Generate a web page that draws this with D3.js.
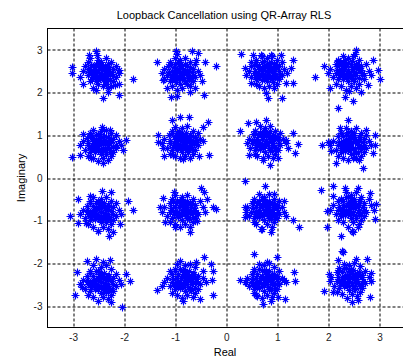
<!DOCTYPE html>
<html>
<head>
<meta charset="utf-8">
<script src="https://cdnjs.cloudflare.com/ajax/libs/d3/7.8.5/d3.min.js"></script>
<style>
  body { margin: 0; background: #fff; }
  svg text { font-family: "Liberation Sans", Arial, sans-serif; fill: #000; }
</style>
</head>
<body>
<svg id="chart" width="403" height="360"></svg>
<script>
var xTicks = [-3, -2, -1, 0, 1, 2, 3];
var yTicks = [-3, -2, -1, 0, 1, 2, 3];

// received symbols, one array per constellation point
var row1a = [[-2.45,2.45],[-2.6,2.5],[-2.3,2.4],[-2.5,2.3],[-2.4,2.6],[-2.7,2.4],[-2.2,2.55],[-2.55,2.65],[-2.35,2.25],[-2.65,2.25],[-2.8,2.5],[-2.75,2.62],[-2.15,2.35],[-2.25,2.7],[-2.5,2.75],[-2.4,2.15],[-2.6,2.1],[-2.3,2.1],[-2.1,2.45],[-2.45,2.55],[-2.55,2.4],[-2.35,2.5],[-2.65,2.55],[-2.2,2.25],[-2.85,2.35],[-2.7,2.7],[-2.5,2.2],[-2.3,2.65],[-2.6,2.35],[-2.4,2.35],[-2.15,2.6],[-2.55,2.05],[-2.25,2.15],[-2.8,2.2],[-2.45,2.7],[-2.35,2.8],[-2.65,2.8],[-2.1,2.2],
  [-2.42,2.42],[-2.52,2.47],[-2.38,2.52],[-2.48,2.36],[-2.58,2.58],[-2.32,2.33],[-2.62,2.3],[-2.28,2.58],[-2.44,2.62],[-2.55,2.25],[-2.35,2.44],[-2.68,2.46],[-2.22,2.47],[-2.5,2.52],[-2.4,2.28],[-2.6,2.42],[-2.3,2.5],[-2.46,2.32],[-2.36,2.62],[-2.56,2.34],[-2.7,2.55],[-2.2,2.38],[-2.48,2.66],[-2.34,2.2],[-2.64,2.64],[-2.26,2.28],
  [-3.02,2.58],[-3.02,2.44],[-2.54,2.97],[-2.67,2.87],[-2.53,2.87],[-1.81,2.3],[-2.4,1.86],[-2.09,1.92],[-2.3,2.01],[-2.17,2.17],[-2.1,2.52]];
var row1b = [[-0.9,2.45],[-1.05,2.5],[-0.75,2.4],[-0.95,2.3],[-0.85,2.6],[-1.15,2.4],[-0.65,2.55],[-1.0,2.65],[-0.8,2.25],[-1.1,2.25],[-1.2,2.55],[-0.7,2.7],[-0.6,2.35],[-0.9,2.75],[-1.05,2.15],[-0.85,2.1],[-0.7,2.15],[-0.55,2.5],[-0.95,2.55],[-0.8,2.5],[-1.0,2.4],[-0.75,2.6],[-1.2,2.3],[-0.65,2.25],[-1.1,2.7],[-0.9,2.2],[-0.95,2.05],[-0.6,2.65],[-1.25,2.45],[-0.85,2.35],[-1.0,2.8],[-0.8,2.8],[-0.7,2.0],[-1.15,2.1],[-0.5,2.4],[-0.9,2.62],[-1.08,2.35],[-0.72,2.32],
  [-0.86,2.42],[-0.96,2.48],[-0.8,2.52],[-0.92,2.36],[-1.02,2.58],[-0.74,2.34],[-1.06,2.3],[-0.7,2.58],[-0.88,2.62],[-0.98,2.24],[-0.78,2.44],[-1.12,2.46],[-0.66,2.48],[-0.92,2.54],[-0.82,2.28],[-1.04,2.42],[-0.72,2.5],[-0.9,2.32],[-0.8,2.66],[-1.0,2.34],[-1.14,2.6],[-0.64,2.4],[-0.94,2.7],[-0.76,2.2],[-1.08,2.66],[-0.68,2.28],
  [-1.35,2.71],[-0.97,2.97],[-0.96,2.89],[-0.67,2.97],[-0.54,2.91],[-0.58,2.75],[-0.4,2.71],[-0.19,2.6],[-0.47,2.25],[-0.42,1.93],[-1.08,1.88],[-0.95,1.91],[-0.6,2.09],[-1.22,2.28]];
var row1c = [[0.8,2.5],[0.65,2.55],[0.95,2.45],[0.75,2.35],[0.85,2.65],[0.55,2.45],[1.05,2.6],[0.7,2.7],[0.9,2.3],[0.6,2.3],[0.5,2.6],[1.0,2.75],[1.1,2.4],[0.8,2.8],[0.65,2.15],[0.85,2.15],[1.0,2.2],[1.15,2.55],[0.75,2.6],[0.9,2.55],[0.7,2.45],[0.95,2.65],[0.5,2.35],[1.05,2.3],[0.6,2.75],[0.8,2.25],[0.75,2.1],[1.1,2.7],[0.45,2.5],[0.85,2.4],[0.7,2.85],[0.9,2.85],[0.95,2.1],[0.6,2.2],[1.2,2.45],[0.82,2.62],[0.62,2.4],[0.98,2.38],
  [0.82,2.46],[0.72,2.52],[0.88,2.56],[0.76,2.4],[0.66,2.62],[0.94,2.38],[0.62,2.34],[0.98,2.6],[0.8,2.66],[0.7,2.28],[0.9,2.48],[0.58,2.5],[1.04,2.5],[0.76,2.58],[0.86,2.32],[0.64,2.44],[0.96,2.54],[0.78,2.36],[0.88,2.7],[0.68,2.38],[0.56,2.64],[1.06,2.42],[0.74,2.72],[0.92,2.24],[0.6,2.7],[1.0,2.32],
  [0.29,2.89],[0.53,2.87],[0.5,2.71],[0.37,2.56],[0.4,2.4],[0.5,2.21],[1.31,2.75],[1.27,2.56],[1.31,2.22],[1.18,2.21],[0.82,1.86],[1.1,1.86],[0.79,1.97],[1.08,2.87],[0.89,2.87],[0.69,2.87]];
var row1d = [[2.4,2.5],[2.25,2.55],[2.55,2.45],[2.35,2.35],[2.45,2.65],[2.15,2.45],[2.65,2.6],[2.3,2.7],[2.5,2.3],[2.2,2.3],[2.05,2.55],[2.6,2.75],[2.7,2.4],[2.4,2.8],[2.25,2.15],[2.45,2.15],[2.6,2.2],[2.8,2.5],[2.35,2.6],[2.5,2.55],[2.3,2.45],[2.55,2.65],[2.1,2.35],[2.7,2.3],[2.2,2.75],[2.4,2.25],[2.35,2.05],[2.75,2.65],[2.0,2.45],[2.45,2.4],[2.3,2.85],[2.5,2.85],[2.55,2.1],[2.15,2.2],[2.85,2.4],[2.62,2.52],[2.18,2.62],[2.42,2.02],
  [2.42,2.48],[2.32,2.54],[2.48,2.58],[2.36,2.42],[2.26,2.64],[2.54,2.4],[2.22,2.36],[2.58,2.62],[2.4,2.68],[2.3,2.3],[2.5,2.5],[2.18,2.52],[2.64,2.52],[2.36,2.6],[2.46,2.34],[2.24,2.46],[2.56,2.56],[2.38,2.38],[2.48,2.72],[2.28,2.4],[2.16,2.66],[2.66,2.44],[2.34,2.74],[2.52,2.26],[2.2,2.72],[2.6,2.34],
  [1.74,2.36],[1.93,2.6],[2.56,2.98],[2.54,2.89],[2.88,2.75],[2.99,2.52],[3.03,2.3],[2.05,2.09],[2.33,1.89],[2.2,1.62],[2.49,1.78],[2.65,2.01],[2.78,2.17]];

var row2a = [[-2.45,0.8],[-2.6,0.85],[-2.3,0.75],[-2.5,0.65],[-2.4,0.95],[-2.7,0.75],[-2.2,0.9],[-2.55,1.0],[-2.35,0.6],[-2.65,0.6],[-2.8,0.85],[-2.25,1.05],[-2.15,0.7],[-2.45,1.1],[-2.6,0.45],[-2.4,0.45],[-2.25,0.5],[-2.1,0.85],[-2.5,0.9],[-2.35,0.85],[-2.55,0.75],[-2.3,0.95],[-2.75,0.65],[-2.2,0.6],[-2.65,1.05],[-2.45,0.55],[-2.5,0.38],[-2.15,1.0],[-2.85,0.75],[-2.4,0.7],[-2.6,1.12],[-2.35,1.12],[-2.3,0.4],[-2.7,0.5],[-2.05,0.75],[-2.48,0.98],[-2.62,0.7],[-2.28,0.68],
  [-2.44,0.78],[-2.54,0.82],[-2.38,0.88],[-2.5,0.7],[-2.6,0.92],[-2.32,0.68],[-2.64,0.66],[-2.28,0.92],[-2.46,0.96],[-2.56,0.6],[-2.36,0.78],[-2.7,0.8],[-2.24,0.82],[-2.48,0.86],[-2.4,0.62],[-2.62,0.76],[-2.3,0.84],[-2.48,0.66],[-2.38,0.98],[-2.58,0.68],[-2.72,0.92],[-2.2,0.72],[-2.5,1.02],[-2.34,0.54],[-2.66,0.98],[-2.26,0.6],
  [-3.02,0.49],[-2.86,0.53],[-2.43,1.18],[-2.27,1.12],[-2.79,1.02],[-1.95,0.88],[-2.01,0.65],[-2.4,0.34],[-2.63,0.46],[-2.14,0.77]];
var row2b = [[-0.85,0.85],[-1.0,0.9],[-0.7,0.8],[-0.9,0.7],[-0.8,1.0],[-1.1,0.8],[-0.6,0.95],[-0.95,1.05],[-0.75,0.65],[-1.05,0.65],[-1.2,0.9],[-0.65,1.1],[-0.55,0.75],[-0.85,1.15],[-1.0,0.5],[-0.8,0.5],[-0.65,0.55],[-0.5,0.9],[-0.9,0.95],[-0.75,0.9],[-0.95,0.8],[-0.7,1.0],[-1.15,0.7],[-0.6,0.65],[-1.05,1.1],[-0.85,0.6],[-0.9,0.45],[-0.55,1.05],[-1.25,0.8],[-0.8,0.75],[-1.0,1.18],[-0.75,1.2],[-0.7,0.45],[-1.1,0.55],[-0.45,0.85],[-0.88,1.02],[-1.02,0.75],[-0.68,0.72],
  [-0.84,0.82],[-0.94,0.88],[-0.78,0.92],[-0.9,0.76],[-1.0,0.98],[-0.72,0.74],[-1.04,0.72],[-0.68,0.96],[-0.86,1.0],[-0.96,0.64],[-0.76,0.84],[-1.1,0.86],[-0.64,0.86],[-0.9,0.9],[-0.8,0.68],[-1.02,0.8],[-0.7,0.9],[-0.88,0.72],[-0.78,1.04],[-0.98,0.74],[-1.12,1.0],[-0.62,0.78],[-0.92,1.08],[-0.74,0.6],[-1.06,1.04],[-0.66,0.66],
  [-1.32,1.0],[-1.32,0.84],[-1.22,0.69],[-1.21,0.51],[-1.06,1.35],[-0.9,1.41],[-0.71,1.41],[-0.34,1.31],[-0.45,1.18],[-0.32,0.53],[-0.52,0.51],[-0.83,0.43],[-1.03,0.53],[-0.57,0.88]];
var row2c = [[0.78,0.85],[0.62,0.9],[0.92,0.8],[0.72,0.7],[0.82,1.0],[0.52,0.8],[1.02,0.95],[0.67,1.05],[0.87,0.65],[0.57,0.65],[0.45,0.9],[0.97,1.1],[1.07,0.75],[0.77,1.15],[0.62,0.5],[0.82,0.5],[0.97,0.55],[1.12,0.9],[0.72,0.95],[0.87,0.9],[0.67,0.8],[0.92,1.0],[0.47,0.7],[1.02,0.65],[0.57,1.1],[0.77,0.6],[0.72,0.45],[1.07,1.05],[0.42,0.8],[0.82,0.75],[0.67,1.2],[0.87,1.2],[0.92,0.45],[0.57,0.55],[1.17,0.8],[0.8,1.02],[0.6,0.75],[0.95,0.72],
  [0.8,0.84],[0.7,0.9],[0.86,0.94],[0.74,0.78],[0.64,1.0],[0.92,0.76],[0.6,0.72],[0.96,0.98],[0.78,1.04],[0.68,0.66],[0.88,0.86],[0.56,0.88],[1.02,0.88],[0.74,0.96],[0.84,0.7],[0.62,0.82],[0.94,0.92],[0.76,0.74],[0.86,1.08],[0.66,0.76],[0.54,1.02],[1.04,0.8],[0.72,1.1],[0.9,0.62],[0.58,1.08],[0.98,0.7],
  [0.27,1.08],[0.43,1.27],[0.79,1.35],[0.59,1.31],[1.31,1.04],[1.42,0.79],[1.35,0.57],[1.22,0.69],[0.86,0.3],[0.73,0.42],[0.46,0.53],[1.02,0.46],[1.18,0.88]];
var row2d = [[2.45,0.8],[2.3,0.85],[2.6,0.75],[2.4,0.65],[2.5,0.95],[2.2,0.75],[2.7,0.9],[2.35,1.0],[2.55,0.6],[2.25,0.6],[2.1,0.85],[2.65,1.05],[2.75,0.7],[2.45,1.1],[2.3,0.45],[2.5,0.45],[2.65,0.5],[2.8,0.85],[2.4,0.9],[2.55,0.85],[2.35,0.75],[2.6,0.95],[2.15,0.65],[2.7,0.6],[2.25,1.05],[2.45,0.55],[2.4,0.4],[2.75,1.0],[2.05,0.75],[2.5,0.7],[2.35,1.15],[2.55,1.15],[2.6,0.4],[2.2,0.5],[2.85,0.75],[2.48,0.98],[2.28,0.7],[2.62,0.68],
  [2.44,0.8],[2.36,0.86],[2.52,0.9],[2.4,0.72],[2.3,0.96],[2.58,0.72],[2.26,0.7],[2.62,0.94],[2.46,1.0],[2.34,0.62],[2.54,0.82],[2.22,0.84],[2.68,0.84],[2.42,0.92],[2.5,0.66],[2.28,0.78],[2.6,0.86],[2.44,0.7],[2.52,1.04],[2.32,0.74],[2.2,0.98],[2.7,0.76],[2.4,1.06],[2.56,0.58],[2.26,1.04],[2.64,0.66],
  [1.89,0.77],[2.16,0.35],[2.69,0.22],[2.39,1.35],[2.23,1.16],[2.75,1.12],[2.92,1.0],[2.92,0.77],[2.88,0.57],[2.56,0.46],[2.07,0.61],[2.01,0.84]];

var row3a = [[-2.45,-0.8],[-2.6,-0.75],[-2.3,-0.85],[-2.5,-0.95],[-2.4,-0.65],[-2.7,-0.85],[-2.2,-0.7],[-2.55,-0.6],[-2.35,-1.0],[-2.65,-1.0],[-2.8,-0.75],[-2.25,-0.55],[-2.15,-0.9],[-2.45,-0.5],[-2.6,-1.15],[-2.4,-1.15],[-2.25,-1.1],[-2.1,-0.75],[-2.5,-0.7],[-2.35,-0.75],[-2.55,-0.85],[-2.3,-0.65],[-2.75,-0.95],[-2.2,-1.0],[-2.65,-0.55],[-2.45,-1.05],[-2.5,-1.25],[-2.15,-0.6],[-2.85,-0.85],[-2.4,-0.9],[-2.6,-0.45],[-2.35,-0.45],[-2.3,-1.2],[-2.7,-1.1],[-2.05,-0.85],[-2.48,-0.62],[-2.62,-0.9],[-2.28,-0.92],
  [-2.44,-0.8],[-2.54,-0.76],[-2.38,-0.7],[-2.5,-0.88],[-2.6,-0.66],[-2.32,-0.9],[-2.64,-0.92],[-2.28,-0.66],[-2.46,-0.62],[-2.56,-0.98],[-2.36,-0.82],[-2.7,-0.78],[-2.24,-0.78],[-2.48,-0.72],[-2.4,-0.96],[-2.62,-0.84],[-2.3,-0.74],[-2.48,-0.92],[-2.38,-0.6],[-2.58,-0.9],[-2.72,-0.66],[-2.2,-0.86],[-2.5,-0.56],[-2.34,-1.04],[-2.66,-0.6],[-2.26,-0.98],
  [-3.04,-0.89],[-2.89,-0.51],[-2.43,-0.31],[-2.24,-0.35],[-1.91,-0.54],[-1.82,-0.76],[-2.5,-1.26],[-2.28,-1.36],[-2.21,-1.28],[-2.73,-1.07],[-2.89,-1.07],[-2.07,-1.09],[-2.66,-0.43]];
var row3b = [[-0.85,-0.75],[-1.0,-0.7],[-0.7,-0.8],[-0.9,-0.9],[-0.8,-0.6],[-1.1,-0.8],[-0.6,-0.65],[-0.95,-0.55],[-0.75,-0.95],[-1.05,-0.95],[-1.2,-0.7],[-0.65,-0.5],[-0.55,-0.85],[-0.85,-0.45],[-1.0,-1.1],[-0.8,-1.1],[-0.65,-1.05],[-0.45,-0.7],[-0.9,-0.65],[-0.75,-0.7],[-0.95,-0.8],[-0.7,-0.6],[-1.15,-0.9],[-0.6,-0.95],[-1.05,-0.5],[-0.85,-1.0],[-0.9,-1.15],[-0.5,-0.55],[-1.25,-0.8],[-0.8,-0.85],[-1.0,-0.4],[-0.75,-0.4],[-0.7,-1.15],[-1.1,-1.05],[-0.4,-0.8],[-0.88,-0.58],[-1.02,-0.85],[-0.62,-0.75],
  [-0.82,-0.74],[-0.92,-0.7],[-0.76,-0.64],[-0.88,-0.82],[-0.98,-0.6],[-0.7,-0.84],[-1.02,-0.86],[-0.66,-0.6],[-0.84,-0.56],[-0.94,-0.92],[-0.74,-0.76],[-1.08,-0.72],[-0.62,-0.72],[-0.86,-0.66],[-0.78,-0.9],[-1.0,-0.78],[-0.68,-0.68],[-0.86,-0.86],[-0.76,-0.54],[-0.96,-0.84],[-1.1,-0.6],[-0.58,-0.8],[-0.88,-0.5],[-0.72,-0.98],[-1.04,-0.54],[-0.64,-0.92],
  [-1.22,-0.48],[-1.29,-0.7],[-1.19,-1.05],[-0.99,-1.17],[-0.7,-1.28],[-0.48,-0.25],[-0.42,-0.35],[-0.37,-0.51],[-0.24,-0.7],[-0.19,-0.74],[-0.57,-1.01],[-1.01,-0.35]];
var row3c = [[0.76,-0.75],[0.6,-0.7],[0.9,-0.8],[0.7,-0.9],[0.8,-0.6],[0.5,-0.8],[1.0,-0.65],[0.65,-0.55],[0.85,-0.95],[0.55,-0.95],[0.42,-0.7],[0.95,-0.5],[1.05,-0.85],[0.75,-0.45],[0.6,-1.1],[0.8,-1.1],[0.95,-1.05],[1.1,-0.7],[0.7,-0.65],[0.85,-0.7],[0.65,-0.8],[0.9,-0.6],[0.45,-0.9],[1.0,-0.95],[0.55,-0.5],[0.75,-1.0],[0.7,-1.2],[1.05,-0.55],[0.4,-0.8],[0.8,-0.85],[0.65,-0.38],[0.85,-0.38],[0.9,-1.15],[0.55,-1.05],[1.15,-0.8],[0.78,-0.58],[0.58,-0.85],[0.95,-0.88],
  [0.78,-0.74],[0.68,-0.7],[0.84,-0.64],[0.72,-0.82],[0.62,-0.6],[0.9,-0.84],[0.58,-0.86],[0.94,-0.6],[0.76,-0.56],[0.66,-0.92],[0.86,-0.76],[0.54,-0.72],[1.0,-0.72],[0.72,-0.66],[0.82,-0.9],[0.6,-0.78],[0.92,-0.68],[0.74,-0.86],[0.84,-0.54],[0.64,-0.84],[0.52,-0.6],[1.02,-0.8],[0.7,-0.5],[0.88,-0.98],[0.56,-0.54],[0.96,-0.92],
  [0.38,-0.08],[0.76,-0.19],[0.37,-0.7],[0.37,-0.93],[1.15,-0.54],[1.31,-1.0],[1.44,-1.15],[1.18,-0.91],[0.89,-1.28],[0.69,-1.21],[0.95,-0.39],[0.99,-0.7]];
var row3d = [[2.45,-0.7],[2.3,-0.65],[2.6,-0.75],[2.4,-0.85],[2.5,-0.55],[2.2,-0.75],[2.7,-0.6],[2.35,-0.45],[2.55,-0.9],[2.25,-0.9],[2.1,-0.65],[2.65,-0.45],[2.75,-0.8],[2.45,-0.4],[2.3,-1.05],[2.5,-1.05],[2.65,-1.0],[2.85,-0.65],[2.4,-0.6],[2.55,-0.65],[2.35,-0.75],[2.6,-0.55],[2.15,-0.85],[2.7,-0.9],[2.25,-0.5],[2.45,-0.95],[2.4,-1.15],[2.8,-0.5],[2.05,-0.75],[2.5,-0.8],[2.35,-0.35],[2.55,-0.35],[2.6,-1.1],[2.2,-1.0],[2.9,-0.75],[2.48,-0.52],[2.28,-0.78],[2.62,-0.82],
  [2.44,-0.7],[2.36,-0.66],[2.52,-0.6],[2.4,-0.78],[2.3,-0.56],[2.58,-0.8],[2.26,-0.82],[2.62,-0.56],[2.46,-0.52],[2.34,-0.88],[2.54,-0.72],[2.22,-0.68],[2.68,-0.68],[2.42,-0.62],[2.5,-0.86],[2.28,-0.74],[2.6,-0.64],[2.44,-0.82],[2.52,-0.5],[2.32,-0.8],[2.2,-0.56],[2.7,-0.76],[2.4,-0.46],[2.56,-0.94],[2.26,-0.5],[2.64,-0.88],
  [1.86,-0.3],[2.1,-0.19],[2.33,-0.25],[2.58,-0.25],[2.82,-0.37],[1.99,-0.78],[1.99,-1.17],[2.25,-1.36],[2.47,-1.25],[2.59,-1.17],[2.92,-0.97],[2.95,-0.62],[2.1,-0.43],[2.5,-1.27]];

var row4a = [[-2.45,-2.45],[-2.6,-2.4],[-2.3,-2.5],[-2.5,-2.6],[-2.4,-2.3],[-2.7,-2.5],[-2.2,-2.35],[-2.55,-2.2],[-2.35,-2.65],[-2.65,-2.65],[-2.8,-2.4],[-2.25,-2.15],[-2.15,-2.55],[-2.45,-2.1],[-2.6,-2.8],[-2.4,-2.8],[-2.25,-2.75],[-2.1,-2.4],[-2.5,-2.35],[-2.35,-2.4],[-2.55,-2.5],[-2.3,-2.3],[-2.75,-2.6],[-2.2,-2.65],[-2.65,-2.2],[-2.45,-2.7],[-2.5,-2.9],[-2.15,-2.25],[-2.85,-2.5],[-2.4,-2.55],[-2.6,-2.05],[-2.35,-2.05],[-2.3,-2.85],[-2.7,-2.75],[-2.05,-2.5],[-2.48,-2.22],[-2.62,-2.55],[-2.28,-2.58],
  [-2.44,-2.44],[-2.54,-2.4],[-2.38,-2.34],[-2.5,-2.52],[-2.6,-2.3],[-2.32,-2.54],[-2.64,-2.56],[-2.28,-2.3],[-2.46,-2.26],[-2.56,-2.62],[-2.36,-2.46],[-2.7,-2.42],[-2.24,-2.42],[-2.48,-2.36],[-2.4,-2.6],[-2.62,-2.48],[-2.3,-2.38],[-2.48,-2.56],[-2.38,-2.24],[-2.58,-2.54],[-2.72,-2.3],[-2.2,-2.5],[-2.5,-2.2],[-2.34,-2.68],[-2.66,-2.24],[-2.26,-2.62],
  [-2.71,-1.96],[-2.54,-1.91],[-2.27,-1.93],[-2.91,-2.22],[-2.96,-2.76],[-1.95,-2.26],[-1.88,-2.43],[-2.04,-3.03],[-2.24,-2.92],[-2.82,-2.57],[-2.4,-1.98]];
var row4b = [[-0.8,-2.4],[-0.95,-2.35],[-0.65,-2.45],[-0.85,-2.55],[-0.75,-2.25],[-1.05,-2.45],[-0.55,-2.3],[-0.9,-2.15],[-0.7,-2.6],[-1.0,-2.6],[-1.15,-2.35],[-0.6,-2.1],[-0.5,-2.5],[-0.8,-2.05],[-0.95,-2.75],[-0.75,-2.75],[-0.6,-2.7],[-0.45,-2.35],[-0.85,-2.3],[-0.7,-2.35],[-0.9,-2.45],[-0.65,-2.25],[-1.1,-2.55],[-0.55,-2.6],[-1.0,-2.15],[-0.8,-2.65],[-0.85,-2.82],[-0.45,-2.2],[-1.2,-2.45],[-0.75,-2.5],[-0.95,-2.02],[-0.7,-2.02],[-0.65,-2.8],[-1.05,-2.7],[-0.38,-2.45],[-0.82,-2.18],[-0.98,-2.5],[-0.58,-2.42],
  [-0.78,-2.4],[-0.88,-2.36],[-0.72,-2.3],[-0.84,-2.48],[-0.94,-2.26],[-0.66,-2.5],[-0.98,-2.52],[-0.62,-2.26],[-0.8,-2.22],[-0.9,-2.58],[-0.7,-2.42],[-1.04,-2.38],[-0.58,-2.38],[-0.82,-2.32],[-0.74,-2.56],[-0.96,-2.44],[-0.64,-2.34],[-0.82,-2.52],[-0.72,-2.2],[-0.92,-2.5],[-1.06,-2.26],[-0.54,-2.46],[-0.84,-2.16],[-0.68,-2.64],[-1.0,-2.2],[-0.6,-2.58],
  [-1.34,-2.63],[-1.25,-2.53],[-0.9,-1.96],[-0.58,-1.98],[-0.42,-1.85],[-0.29,-2.02],[-0.24,-2.18],[-0.27,-2.41],[-0.25,-2.74],[-0.5,-2.84],[-0.83,-2.88],[-1.09,-2.18]];
var row4c = [[0.76,-2.4],[0.6,-2.35],[0.9,-2.45],[0.7,-2.55],[0.8,-2.25],[0.5,-2.45],[1.0,-2.3],[0.65,-2.15],[0.85,-2.6],[0.55,-2.6],[0.42,-2.35],[0.95,-2.1],[1.05,-2.5],[0.75,-2.05],[0.6,-2.75],[0.8,-2.75],[0.95,-2.7],[1.1,-2.35],[0.7,-2.3],[0.85,-2.35],[0.65,-2.45],[0.9,-2.25],[0.45,-2.55],[1.0,-2.6],[0.55,-2.15],[0.75,-2.65],[0.7,-2.82],[1.05,-2.2],[0.4,-2.45],[0.8,-2.5],[0.65,-2.02],[0.85,-2.0],[0.9,-2.8],[0.55,-2.7],[1.18,-2.45],[0.78,-2.18],[0.58,-2.5],[0.95,-2.52],
  [0.78,-2.4],[0.68,-2.36],[0.84,-2.3],[0.72,-2.48],[0.62,-2.26],[0.9,-2.5],[0.58,-2.52],[0.94,-2.26],[0.76,-2.22],[0.66,-2.58],[0.86,-2.42],[0.54,-2.38],[1.0,-2.38],[0.72,-2.32],[0.82,-2.56],[0.6,-2.44],[0.92,-2.34],[0.74,-2.52],[0.84,-2.2],[0.64,-2.5],[0.52,-2.26],[1.02,-2.46],[0.7,-2.16],[0.88,-2.64],[0.56,-2.2],[0.96,-2.58],
  [0.56,-1.79],[1.01,-1.85],[0.81,-1.98],[0.27,-2.4],[0.37,-2.45],[1.35,-2.43],[1.33,-2.22],[1.15,-2.41],[0.73,-2.96],[0.89,-2.89],[1.16,-2.84],[0.61,-2.77],[1.02,-2.8]];
var row4d = [[2.42,-2.38],[2.27,-2.33],[2.57,-2.43],[2.37,-2.53],[2.47,-2.23],[2.17,-2.43],[2.67,-2.28],[2.32,-2.13],[2.52,-2.58],[2.22,-2.58],[2.07,-2.33],[2.62,-2.08],[2.72,-2.48],[2.42,-2.05],[2.27,-2.73],[2.47,-2.73],[2.62,-2.68],[2.8,-2.33],[2.37,-2.28],[2.52,-2.33],[2.32,-2.43],[2.57,-2.23],[2.12,-2.53],[2.67,-2.58],[2.22,-2.13],[2.42,-2.63],[2.37,-2.83],[2.72,-2.18],[2.05,-2.43],[2.47,-2.48],[2.32,-2.02],[2.52,-2.0],[2.57,-2.78],[2.17,-2.68],[2.85,-2.43],[2.45,-2.15],[2.25,-2.48],[2.6,-2.5],
  [2.44,-2.36],[2.34,-2.32],[2.5,-2.26],[2.38,-2.44],[2.28,-2.22],[2.56,-2.46],[2.24,-2.48],[2.6,-2.22],[2.42,-2.18],[2.32,-2.54],[2.52,-2.38],[2.2,-2.34],[2.66,-2.34],[2.38,-2.28],[2.48,-2.52],[2.26,-2.4],[2.58,-2.3],[2.4,-2.48],[2.5,-2.16],[2.3,-2.46],[2.18,-2.22],[2.68,-2.42],[2.36,-2.12],[2.54,-2.6],[2.22,-2.16],[2.62,-2.54],
  [2.27,-1.73],[1.92,-2.65],[2.56,-1.91],[2.77,-1.91],[2.85,-2.24],[2.85,-2.43],[2.82,-2.79],[2.47,-2.92],[2.59,-2.87],[2.1,-2.68],[2.03,-2.26],[2.2,-1.93],[2.29,-1.74]];

var data = [].concat(row1a, row1b, row1c, row1d, row2a, row2b, row2c, row2d,
                     row3a, row3b, row3c, row3d, row4a, row4b, row4c, row4d);

var margin = {top: 28.5, left: 47.5},
    width = 357.5,
    height = 299;

var x = d3.scaleLinear().domain([-3.5, 3.5]).range([0, width]);
var y = d3.scaleLinear().domain([-3.5, 3.5]).range([height, 0]);

var svg = d3.select("#chart");
var g = svg.append("g")
    .attr("transform", "translate(" + margin.left + "," + margin.top + ")");

// dotted grid
g.selectAll(".gx")
    .data(xTicks)
  .enter().append("line")
    .attr("x1", function(d) { return Math.round(x(d)) + 0.5; })
    .attr("x2", function(d) { return Math.round(x(d)) + 0.5; })
    .attr("y1", 0)
    .attr("y2", height)
    .style("stroke", "#000")
    .style("stroke-width", 1)
    .style("stroke-dasharray", "3,2");

g.selectAll(".gy")
    .data(yTicks)
  .enter().append("line")
    .attr("y1", function(d) { return Math.round(y(d)) + 0.5; })
    .attr("y2", function(d) { return Math.round(y(d)) + 0.5; })
    .attr("x1", 0)
    .attr("x2", width)
    .style("stroke", "#000")
    .style("stroke-width", 1)
    .style("stroke-dasharray", "3,2");

// asterisk markers
var star = "M0,-4V4M-4,0H4M-2.5,-2.5L2.5,2.5M-2.5,2.5L2.5,-2.5";
g.selectAll(".pt")
    .data(data)
  .enter().append("path")
    .attr("d", star)
    .attr("transform", function(d) {
      return "translate(" + Math.round(x(d[0])) + "," + Math.round(y(d[1])) + ")";
    })
    .style("fill", "none")
    .style("stroke", "#0000ff")
    .style("stroke-width", 1.1);

// axes
var xAxis = d3.axisBottom(x).tickValues(xTicks).tickSize(0).tickPadding(6)
    .tickFormat(function(d) { return d; });
var yAxis = d3.axisLeft(y).tickValues(yTicks).tickSize(0).tickPadding(5)
    .tickFormat(function(d) { return d; });

g.append("g")
    .attr("transform", "translate(0," + height + ")")
    .call(xAxis)
    .call(function(s) { s.select(".domain").remove(); })
    .selectAll("text")
    .style("font-size", "10px")
    .style("fill", "#222");

g.append("g")
    .call(yAxis)
    .call(function(s) { s.select(".domain").remove(); })
    .selectAll("text")
    .style("font-size", "10px")
    .style("fill", "#222");

// box
g.append("rect")
    .attr("x", 0)
    .attr("y", 0)
    .attr("width", width)
    .attr("height", height)
    .style("fill", "none")
    .style("stroke", "#000")
    .style("stroke-width", 1);

svg.append("text")
    .attr("x", 224)
    .attr("y", 19)
    .style("text-anchor", "middle")
    .style("font-size", "11px")
    .text("Loopback Cancellation using QR-Array RLS");

svg.append("text")
    .attr("x", 225)
    .attr("y", 356)
    .style("text-anchor", "middle")
    .style("font-size", "11px")
    .text("Real");

svg.append("text")
    .attr("transform", "translate(25,178) rotate(-90)")
    .style("text-anchor", "middle")
    .style("font-size", "11px")
    .text("Imaginary");
</script>
</body>
</html>
